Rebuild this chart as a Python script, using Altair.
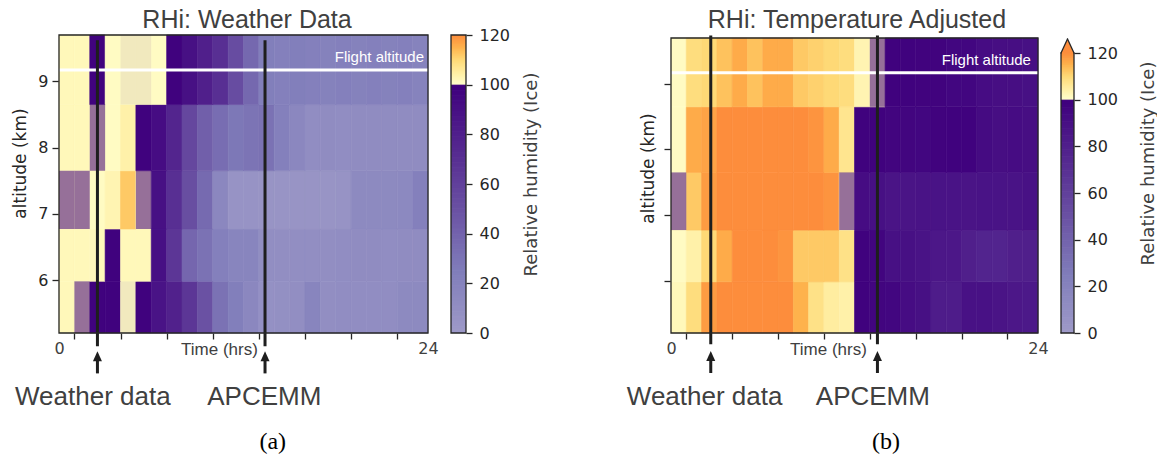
import altair as alt
import numpy as np
import pandas as pd

# ---------------------------------------------------------------- data
HOURS = list(range(24))
PRESSURE_HPA = [500, 450, 400, 350, 300]
LEVEL_EDGES_KM = [5.20, 5.98, 6.77, 7.65, 8.65, 9.70]
FLIGHT_ALT_KM = 9.17

# (a) RHi (%) taken straight from the weather data, hourly, per pressure level
rhi_a_500 = [102, 102, 99, 99, 101, 99, 88, 79, 66, 50, 31, 23, 16, 8, 9, 10, 18, 10, 11, 11, 11, 11, 14, 14]
rhi_a_450 = [102, 102, 102, 99, 102, 102, 90, 66, 38, 31, 22, 18, 18, 10, 10, 10, 10, 10, 11, 12, 12, 11, 12, 12]
rhi_a_400 = [102, 102, 101, 103, 112, 102, 90, 70, 52, 36, 16, 6, 6, 5, 5, 5, 5, 5, 6, 14, 14, 14, 15, 22]
rhi_a_350 = [102, 102, 102, 101, 104, 99, 92, 76, 56, 42, 34, 28, 30, 31, 22, 16, 11, 12, 11, 12, 12, 12, 12, 12]
rhi_a_300 = [102, 102, 98, 101, 101, 101, 101, 99, 90, 80, 70, 53, 37, 23, 22, 23, 22, 21, 22, 21, 22, 21, 22, 20]

# (b) RHi (%) after the temperature adjustment
rhi_b_500 = [102, 109, 118, 124, 124, 124, 124, 124, 115, 108, 105, 104, 99, 97, 96, 92, 90, 82, 82, 89, 89, 87, 85, 84]
rhi_b_450 = [101, 104, 110, 116, 124, 124, 124, 119, 112, 112, 112, 108, 99, 97, 90, 90, 88, 85, 85, 80, 77, 77, 80, 80]
rhi_b_400 = [102, 112, 118, 120, 124, 124, 124, 124, 124, 124, 119, 102, 92, 90, 87, 87, 88, 88, 88, 87, 88, 88, 88, 89]
rhi_b_350 = [101, 116, 117, 124, 124, 124, 124, 124, 124, 119, 116, 107, 99, 99, 97, 97, 96, 98, 99, 99, 93, 91, 92, 91]
rhi_b_300 = [101, 109, 110, 113, 116, 113, 116, 116, 112, 111, 110, 109, 103, 102, 99, 99, 98, 98, 96, 96, 92, 91, 91, 90]

# mixed cells: (hour, pressure level, share of the sub-saturated overlay)
mixed_a = [(4, 300, 0.07), (5, 300, 0.07), (2, 350, 0.55), (0, 400, 0.55), (1, 400, 0.55),
           (5, 400, 0.55), (1, 500, 0.55), (4, 500, 0.07)]
mixed_b = [(13, 300, 0.55), (0, 400, 0.55), (11, 400, 0.55)]

event_names = ["Weather data", "APCEMM"]
event_hours_a = [2.5, 13.4]
event_hours_b = [2.6, 13.5]
event_label_hours_a = [2.2, 13.35]
event_label_hours_b = [2.2, 13.2]

CBAR_TICKS = [0, 20, 40, 60, 80, 100, 120]
ALT_TICKS = [6, 7, 8, 9]
TIME_TICKS = [0, 1, 4, 7, 10, 13, 16, 19, 22, 24]

# --------------------------------------------------------------- style
INK = "#262626"
GREY = "#404040"
SANS = "Liberation Sans"
DJ = "DejaVu Sans"

# Purples (upper half) below saturation, YlOrRd (lower half) above it
CMAP_DOMAIN = [0, 25, 50, 75, 100, 100.001, 105, 110, 115, 120]
CMAP_RANGE = ["#9e9ac8", "#807dba", "#6a51a3", "#54278f", "#3f007d",
              "#ffffcc", "#ffeda0", "#fed976", "#feb24c", "#fd8d3c"]
cscale = alt.Scale(domain=CMAP_DOMAIN, range=CMAP_RANGE, interpolate="rgb", clamp=True)

TRIANGLE = "M0,-1L0.9,1L-0.9,1Z"
ONE = pd.DataFrame({"k": [0]})


def cell_table(rows):
    recs = []
    for i, vals in enumerate(rows):
        lo, hi = LEVEL_EDGES_KM[i], LEVEL_EDGES_KM[i + 1]
        for h, v in zip(HOURS, vals):
            recs.append({"h0": h, "h1": h + 1, "a0": lo, "a1": hi, "rhi": v})
    return pd.DataFrame(recs)


def mixed_table(mixed):
    recs = []
    for h, hpa, share in mixed:
        i = PRESSURE_HPA.index(hpa)
        recs.append({"h0": h, "h1": h + 1, "a0": LEVEL_EDGES_KM[i],
                     "a1": LEVEL_EDGES_KM[i + 1], "share": share})
    return pd.DataFrame(recs)


def heat_panel(rows, mixed, ev_hours, ev_label_hours, cfg):
    xs = alt.Scale(domain=[0, 24], nice=False, zero=False)
    ys = alt.Scale(domain=cfg["ydom"], nice=False, zero=False)
    edge = "datum.value == 0 || datum.value == 24"
    xaxis = alt.Axis(values=TIME_TICKS, labelExpr=f"{edge} ? datum.label : ''",
                     tickOpacity={"condition": {"test": edge, "value": 0}, "value": 1},
                     labelFlush=False, labelOverlap=False, grid=False, domain=False,
                     tickSize=6, tickWidth=1.3, tickColor=INK,
                     labelFont=DJ, labelFontSize=16, labelColor=GREY, labelPadding=1,
                     title="Time (hrs)", titleFont=SANS, titleFontSize=17,
                     titleFontWeight="normal", titleColor=GREY,
                     titleX=cfg["xtitle_x"], titleY=16, titleAlign="center",
                     titleBaseline="middle")
    yaxis = alt.Axis(values=ALT_TICKS, labels=cfg["ylabels"], format="d",
                     grid=False, domain=False, tickSize=7, tickWidth=1.3, tickColor=INK,
                     labelFont=DJ, labelFontSize=16, labelColor=INK, labelPadding=4,
                     title="altitude (km)", titleFont=DJ, titleFontSize=17,
                     titleFontWeight="normal", titleColor=INK, titleAngle=270,
                     titleX=cfg["ytitle_x"], titleY=cfg["ytitle_y"],
                     titleAlign="center", titleBaseline="middle")
    X = alt.X("h0:Q", scale=xs, axis=xaxis)
    Y = alt.Y("a0:Q", scale=ys, axis=yaxis)

    cells = alt.Chart(cell_table(rows)).mark_rect(strokeWidth=0.6).encode(
        x=X, x2="h1:Q", y=Y, y2="a1:Q",
        color=alt.Color("rhi:Q", scale=cscale, legend=None),
        stroke=alt.Stroke("rhi:Q", scale=cscale, legend=None))

    overlay = alt.Chart(mixed_table(mixed)).mark_rect(color="#3f007d", strokeWidth=0).encode(
        x=X, x2="h1:Q", y=Y, y2="a1:Q",
        opacity=alt.Opacity("share:Q", scale=None))

    flight = alt.Chart(ONE).mark_rule(color="white", strokeWidth=3).encode(
        x=alt.datum(0), x2=alt.datum(24), y=alt.datum(FLIGHT_ALT_KM))

    flight_txt = alt.Chart(ONE).mark_text(
        text="Flight altitude", align="right", baseline="alphabetic",
        font=SANS, fontSize=15, color="white").encode(
        x=alt.datum(cfg["flight_hour"]), y=alt.datum(cfg["flight_txt_alt"]))

    ev = pd.DataFrame({"h0": ev_hours, "name": event_names})
    ev_lines = alt.Chart(ev).mark_rule(color="#1e1e1e", strokeWidth=3).encode(
        x=X, y=alt.datum(cfg["line_top"]), y2=alt.datum(cfg["line_bottom"]))
    shafts = alt.Chart(ev).mark_rule(color="#1e1e1e", strokeWidth=3).encode(
        x=X, y=alt.datum(cfg["shaft"][0]), y2=alt.datum(cfg["shaft"][1]))
    heads = alt.Chart(ev).mark_point(shape=TRIANGLE, size=100, filled=True,
                                     color="#1e1e1e", opacity=1).encode(
        x=X, y=alt.datum(cfg["head_alt"]))

    lab = pd.DataFrame({"h0": ev_label_hours, "name": event_names})
    labels = alt.Chart(lab).mark_text(font=SANS, fontSize=26, color=GREY,
                                      align="center", baseline="middle").encode(
        x=X, y=alt.datum(cfg["label_alt"]), text="name:N")

    tag = alt.Chart(ONE).mark_text(
        text=cfg["tag"], font="Liberation Serif", fontSize=24, color="black",
        align="center", baseline="middle").encode(
        x=alt.datum(cfg["tag_hour"]), y=alt.datum(cfg["tag_alt"]))

    title = alt.Chart(ONE).mark_text(
        text=cfg["title"], font=SANS, fontSize=25, color=GREY,
        align="center", baseline="alphabetic").encode(
        x=alt.datum(cfg["title_hour"]), y=alt.datum(cfg["title_alt"]))

    frame = alt.Chart(ONE).mark_rect(
        filled=False, stroke=INK, strokeWidth=1.3).encode(
        x=alt.datum(0), x2=alt.datum(24),
        y=alt.datum(LEVEL_EDGES_KM[0]), y2=alt.datum(LEVEL_EDGES_KM[-1]))

    layers = [cells, overlay, flight, flight_txt, ev_lines, shafts, heads, labels, tag,
              title, frame]
    if cfg.get("anchor"):
        # white corner point that pins the page origin
        layers.append(alt.Chart(ONE).mark_rule(color="white", strokeWidth=1).encode(
            x=alt.value(-58), x2=alt.value(-58), y=alt.value(-34), y2=alt.value(-33)))

    return alt.layer(*layers).properties(width=cfg["width"], height=298)


def colorbar(width, bar_w, ymax, title_x, title_y, arrow):
    # colour swatches, each slightly overlapping the next so no seams show
    cb = pd.DataFrame({"v0": np.arange(0, 120, 0.5)})
    cb["v1"] = np.minimum(cb["v0"] + 0.8, 120)
    cb["vc"] = cb["v0"] + 0.25
    ys = alt.Scale(domain=[0, ymax], nice=False, zero=False)
    axis = alt.Axis(orient="right", offset=-(width - bar_w), values=CBAR_TICKS,
                    domain=False, grid=False, tickSize=6, tickWidth=1.3, tickColor=INK,
                    labelFont=DJ, labelFontSize=16, labelColor=INK, labelPadding=7,
                    title="Relative humidity (Ice)", titleFont=DJ, titleFontSize=18,
                    titleFontWeight="normal", titleColor=GREY, titleAngle=270,
                    titleX=title_x, titleY=title_y, titleAlign="center",
                    titleBaseline="middle")
    xs = alt.Scale(domain=[0, width], nice=False, zero=False)
    bar = alt.Chart(cb).mark_rect(strokeWidth=0).encode(
        x=alt.X(datum=0, scale=xs, axis=None), x2=alt.datum(bar_w),
        y=alt.Y("v0:Q", scale=ys, axis=axis), y2="v1:Q",
        color=alt.Color("vc:Q", scale=cscale, legend=None))
    if arrow:
        tip = 126
        mid = bar_w / 2
        head = alt.Chart(ONE).mark_point(
            shape="M0,-1L0.93,1L-0.93,1Z", size=196, filled=True,
            fill="#fd8d3c", strokeWidth=0, opacity=1).encode(
            x=alt.datum(mid), y=alt.datum((120 + tip) / 2))
        segs = pd.DataFrame({"px0": [0, bar_w, 0, 0, mid],
                             "px1": [0, bar_w, bar_w, mid, bar_w],
                             "v0": [0, 0, 0, 120, tip],
                             "v1": [120, 120, 0, tip, 120]})
        outline = alt.Chart(segs).mark_rule(color=INK, strokeWidth=1.3, strokeCap="round").encode(
            x="px0:Q", x2="px1:Q", y="v0:Q", y2="v1:Q")
        layers = [bar, head, outline]
    else:
        outline = alt.Chart(ONE).mark_rect(
            filled=False, stroke=INK, strokeWidth=1.3).encode(
            x=alt.datum(0), x2=alt.datum(bar_w), y=alt.datum(0), y2=alt.datum(120))
        layers = [bar, outline]
    return alt.layer(*layers).properties(width=width, height=298)


panel_a = heat_panel(
    [rhi_a_500, rhi_a_450, rhi_a_400, rhi_a_350, rhi_a_300], mixed_a,
    event_hours_a, event_label_hours_a,
    dict(ydom=[5.2, 9.7], width=369, ylabels=True, ytitle_x=-39, ytitle_y=128,
         xtitle_x=160, flight_hour=23.74, flight_txt_alt=9.29,
         line_top=9.62, line_bottom=5.0, shaft=(4.59, 4.80), head_alt=4.85,
         label_alt=4.23, tag="(a)", tag_hour=13.9, tag_alt=3.56,
         title="RHi: Weather Data", title_hour=12.23, title_alt=9.806, anchor=True))

panel_b = heat_panel(
    [rhi_b_500, rhi_b_450, rhi_b_400, rhi_b_350, rhi_b_300], mixed_b,
    event_hours_b, event_label_hours_b,
    dict(ydom=[5.2, 9.746], width=367, ylabels=False, ytitle_x=-23, ytitle_y=133,
         xtitle_x=157, flight_hour=23.54, flight_txt_alt=9.293,
         line_top=9.74, line_bottom=5.03, shaft=(4.59, 4.80), head_alt=4.85,
         label_alt=4.22, tag="(b)", tag_hour=14.06, tag_alt=3.54,
         title="RHi: Temperature Adjusted", title_hour=12.16, title_alt=9.853))

cbar_a = colorbar(197, 15, 120, 65, 139, arrow=False)
cbar_b = colorbar(13, 13, 120 * 298 / 280, 74, 128, arrow=True)

chart = alt.hconcat(panel_a, cbar_a, panel_b, cbar_b, spacing=23, bounds="flush").properties(
    padding=0, background="white"
).configure_view(strokeWidth=0)

chart.save("out.html", embed_options={"renderer": "svg", "actions": False})
